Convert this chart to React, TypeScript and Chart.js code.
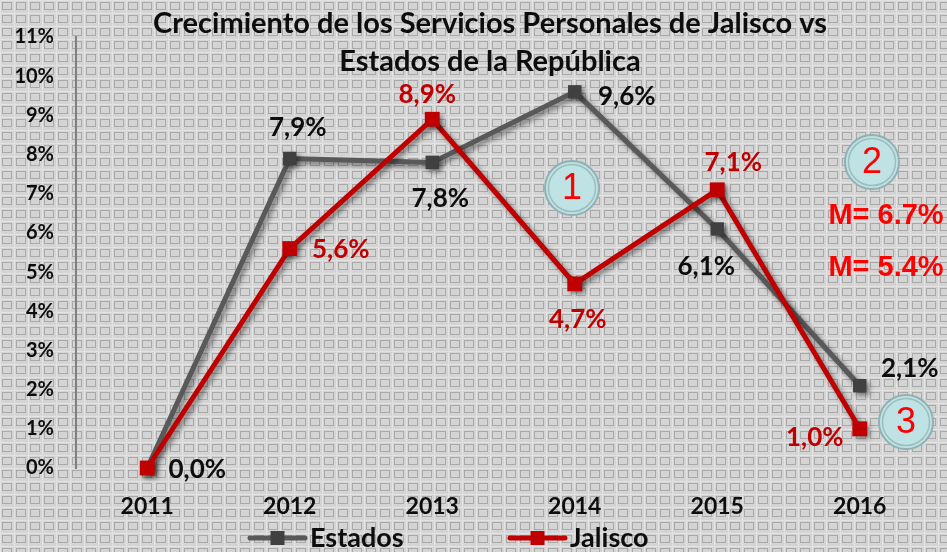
import React, { useEffect, useRef } from "react";
import { Chart, registerables } from "chart.js";

Chart.register(...registerables);

const categories = ["2011", "2012", "2013", "2014", "2015", "2016"];
const estados = [0.0, 7.9, 7.8, 9.6, 6.1, 2.1];
const jalisco = [0.0, 5.6, 8.9, 4.7, 7.1, 1.0];
const estadosLabels = ["0,0%", "7,9%", "7,8%", "9,6%", "6,1%", "2,1%"];
const jaliscoLabels = ["", "5,6%", "8,9%", "4,7%", "7,1%", "1,0%"];
const titleLines = ["Crecimiento de los Servicios Personales de Jalisco vs", "Estados de la República"];
const meanLabels = ["M= 6.7%", "M= 5.4%"];
const circleLabels = ["1", "2", "3"];

// label offsets (styling) relative to each point
const estadosOffsets = [[50, 2], [8, -31], [8, 36], [52, 5], [-11, 38], [50, -17]];
const jaliscoOffsets = [[0, 0], [51, 1], [-5, -25], [3, 36], [16, -27], [-45, 9]];

const FONT = "Lato, 'Open Sans', sans-serif";

function drawPattern(ctx: CanvasRenderingContext2D, w: number, h: number) {
  ctx.save();
  ctx.fillStyle = "#d4d4d4";
  ctx.fillRect(0, 0, w, h);
  ctx.strokeStyle = "#e3e3e3";
  ctx.lineWidth = 1;
  for (let x = 0; x < w; x += 14) {
    ctx.beginPath();
    ctx.moveTo(x + 0.5, 0);
    ctx.lineTo(x + 0.5, h);
    ctx.stroke();
  }
  for (let y = 0; y < h; y += 13) {
    ctx.beginPath();
    ctx.moveTo(0, y + 0.5);
    ctx.lineTo(w, y + 0.5);
    ctx.stroke();
  }
  ctx.strokeStyle = "#a9a9a9";
  for (let y = 0; y < h; y += 13) {
    for (let x = 0; x < w; x += 14) {
      ctx.strokeRect(x + 2.5, y + 2.5, 9, 7);
    }
  }
  ctx.restore();
}

function drawCircle(ctx: CanvasRenderingContext2D, cx: number, cy: number, label: string) {
  ctx.save();
  ctx.beginPath();
  ctx.arc(cx, cy, 27, 0, Math.PI * 2);
  ctx.fillStyle = "#bfe2e5";
  ctx.fill();
  ctx.lineWidth = 2;
  ctx.strokeStyle = "#8fb1b3";
  ctx.stroke();
  ctx.beginPath();
  ctx.arc(cx, cy, 23.5, 0, Math.PI * 2);
  ctx.lineWidth = 1.5;
  ctx.strokeStyle = "#9dbcbe";
  ctx.stroke();
  ctx.fillStyle = "#ff0000";
  ctx.font = "36px 'Liberation Sans', Arial, sans-serif";
  ctx.textAlign = "center";
  ctx.textBaseline = "middle";
  ctx.fillText(label, cx, cy + 1);
  ctx.restore();
}

const customPlugin = {
  id: "custom",
  beforeDraw(chart: any) {
    drawPattern(chart.ctx, chart.width, chart.height);
  },
  beforeDatasetDraw(chart: any) {
    const ctx = chart.ctx;
    ctx.save();
    ctx.shadowColor = "rgba(0,0,0,0.45)";
    ctx.shadowBlur = 5;
    ctx.shadowOffsetX = 3;
    ctx.shadowOffsetY = 3;
  },
  afterDatasetDraw(chart: any) {
    chart.ctx.restore();
  },
  afterDatasetsDraw(chart: any) {
    const ctx = chart.ctx;
    ctx.save();
    ctx.font = `bold 26px ${FONT}`;
    ctx.textAlign = "center";
    ctx.textBaseline = "middle";
    const m0 = chart.getDatasetMeta(0);
    const m1 = chart.getDatasetMeta(1);
    m0.data.forEach((p: any, i: number) => {
      const t = estadosLabels[i];
      if (!t) return;
      ctx.fillStyle = "#0d0d0d";
      ctx.fillText(t, p.x + estadosOffsets[i][0], p.y + estadosOffsets[i][1]);
    });
    m1.data.forEach((p: any, i: number) => {
      const t = jaliscoLabels[i];
      if (!t) return;
      ctx.fillStyle = "#c00000";
      ctx.fillText(t, p.x + jaliscoOffsets[i][0], p.y + jaliscoOffsets[i][1]);
    });
    ctx.restore();
  },
  afterDraw(chart: any) {
    const ctx = chart.ctx;
    ctx.save();
    ctx.fillStyle = "#0d0d0d";
    ctx.font = `bold 29px ${FONT}`;
    ctx.textAlign = "center";
    ctx.textBaseline = "middle";
    ctx.fillText(titleLines[0], 490, 24);
    ctx.fillText(titleLines[1], 490, 62);

    drawCircle(ctx, 572, 188, circleLabels[0]);
    drawCircle(ctx, 872, 162, circleLabels[1]);
    drawCircle(ctx, 906, 422, circleLabels[2]);

    ctx.fillStyle = "#ff0000";
    ctx.font = "bold 29px 'Liberation Sans', Arial, sans-serif";
    ctx.textAlign = "center";
    ctx.fillText(meanLabels[0], 886, 216);
    ctx.fillText(meanLabels[1], 886, 268);

    const items = [
      { label: chart.data.datasets[0].label, line: "#595959", mark: "#404040", x: 250 },
      { label: chart.data.datasets[1].label, line: "#c00000", mark: "#c00000", x: 510 },
    ];
    const ly = 538;
    items.forEach((it) => {
      ctx.strokeStyle = it.line;
      ctx.lineWidth = 5;
      ctx.lineCap = "round";
      ctx.beginPath();
      ctx.moveTo(it.x, ly);
      ctx.lineTo(it.x + 55, ly);
      ctx.stroke();
      ctx.fillStyle = it.mark;
      ctx.fillRect(it.x + 27.5 - 7, ly - 7, 14, 14);
      ctx.fillStyle = "#0d0d0d";
      ctx.font = `bold 27px ${FONT}`;
      ctx.textAlign = "left";
      ctx.textBaseline = "middle";
      ctx.fillText(it.label, it.x + 60, ly);
    });
    ctx.restore();
  },
};

export default function App() {
  const ref = useRef<HTMLCanvasElement>(null);
  useEffect(() => {
    if (!ref.current) return;
    const chart = new Chart(ref.current, {
      type: "line",
      data: {
        labels: categories,
        datasets: [
          {
            label: "Estados",
            data: estados,
            order: 1,
            clip: false,
            borderColor: "#595959",
            backgroundColor: "#404040",
            pointBackgroundColor: "#404040",
            pointBorderColor: "#404040",
            borderWidth: 5,
            pointStyle: "rect",
            pointRadius: 9.5,
            pointBorderWidth: 0,
            tension: 0,
          },
          {
            label: "Jalisco",
            data: jalisco,
            order: 0,
            clip: false,
            borderColor: "#c00000",
            backgroundColor: "#c00000",
            pointBackgroundColor: "#c00000",
            pointBorderColor: "#c00000",
            borderWidth: 5,
            pointStyle: "rect",
            pointRadius: 10.5,
            pointBorderWidth: 0,
            tension: 0,
          },
        ],
      },
      options: {
        animation: false,
        responsive: false,
        devicePixelRatio: 1,
        layout: { padding: { top: 37, bottom: 34, left: 0, right: 16 } },
        plugins: {
          legend: { display: false },
          title: { display: false },
          tooltip: { enabled: false },
        },
        scales: {
          x: {
            offset: true,
            grid: { display: false, drawTicks: false },
            border: { display: false },
            ticks: {
              color: "#0d0d0d",
              font: { family: FONT, size: 23, weight: "bold" },
              padding: 25,
            },
            afterFit: (s: any) => {
              s.height = 50;
            },
          },
          y: {
            min: 0,
            max: 11,
            grid: { display: false, drawTicks: false },
            border: { display: true, color: "#7f7f7f", width: 2 },
            ticks: {
              stepSize: 1,
              color: "#0d0d0d",
              font: { family: FONT, size: 20, weight: "bold" },
              padding: 22,
              callback: (v: any) => `${v}%`,
            },
            afterFit: (s: any) => {
              s.width = 76;
            },
          },
        },
      },
      plugins: [customPlugin],
    });
    return () => chart.destroy();
  }, []);
  return (
    <div style={{ position: "fixed", left: 0, top: 0, width: 947, height: 552 }}>
      <canvas ref={ref} width={947} height={552} style={{ width: 947, height: 552 }} />
    </div>
  );
}
